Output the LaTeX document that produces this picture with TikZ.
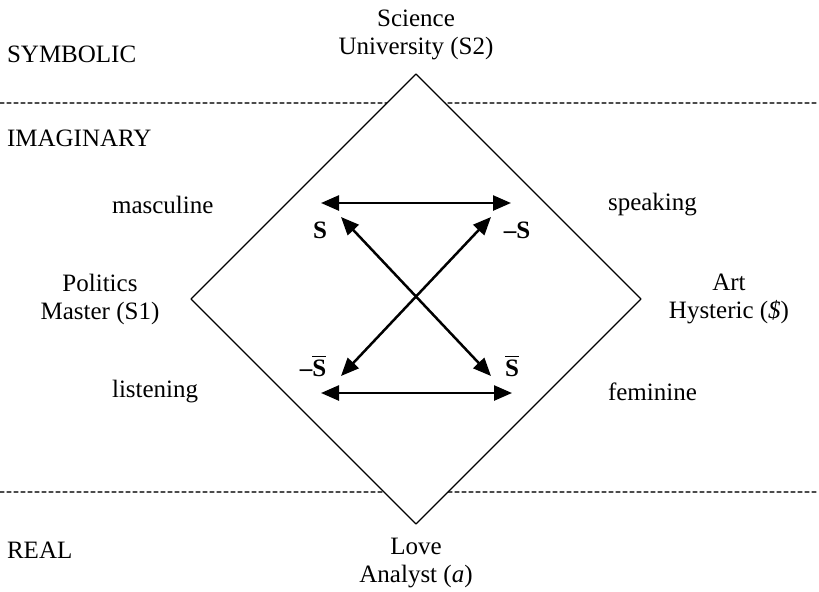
\documentclass[tikz,border=0pt]{standalone}
\usepackage{fontspec}
\setmainfont{Liberation Serif}
\usetikzlibrary{arrows.meta}
\tikzset{
  level/.style={draw=black!70, line width=0.6pt, dash pattern=on 2pt off 1.5pt},
  duo/.style={<->, line width=1.25pt},
  sym/.style={font=\fontsize{12.5}{15}\selectfont\bfseries}
}
\begin{document}
\begin{tikzpicture}[x=0.5pt, y=-0.5pt, font=\fontsize{12.5}{14}\selectfont, line join=round, line cap=round, >={Triangle[length=9pt,width=7.5pt]}]
	\useasboundingbox (0,0) rectangle (819,591);
	\draw[level] (0,103)--(819,103) (0,492)--(819,492);
	\draw[fill=white, line width=0.6pt] (416,74)--(641,299)--(416,524)--(191,299)--cycle;
	\node[anchor=west] (symb) at (0,54) {SYMBOLIC};
	\node[anchor=west] (imag) at (0,138) {IMAGINARY};
	\node[anchor=west] (real) at (0,550) {REAL};
	\node[align=center] (sci) at (416,35) {Science\\University (S2)};
	\node[align=center] (pol) at (100,299) {Politics\\Master (S1)};
	\node[align=center] (art) at (729,299) {Art\\Hysteric (\textit{\$})};
	\node[align=center] (love) at (416,563) {Love\\Analyst (\textit{a})};
	\node[anchor=west] (masc) at (105,205) {masculine};
	\node[anchor=west] (list) at (105,392) {listening};
	\node[anchor=west] (speak) at (601,205) {speaking};
	\node[anchor=west] (fem) at (601,392) {feminine};
	\node[sym] (s) at (320,230) {S};
	\node[sym] (ms) at (517,230) {–S};
	\node[sym] (msb) at (313,366) {–$\overline{\hbox{\bfseries S}}$};
	\node[sym] (sb) at (512,366) {$\overline{\hbox{\bfseries S}}$};
	\coordinate (tl) at (321,203);
	\coordinate (tr) at (511,203);
	\coordinate (bl) at (321,393);
	\coordinate (br) at (512,393);
	\coordinate (xul) at (341,217);
	\coordinate (xur) at (491,217);
	\coordinate (xll) at (341,376);
	\coordinate (xlr) at (491,376);
	\draw[duo] (tl)--(tr);
	\draw[duo] (bl)--(br);
	\draw[duo] (xul)--(xlr);
	\draw[duo] (xll)--(xur);
\end{tikzpicture}
\end{document}
